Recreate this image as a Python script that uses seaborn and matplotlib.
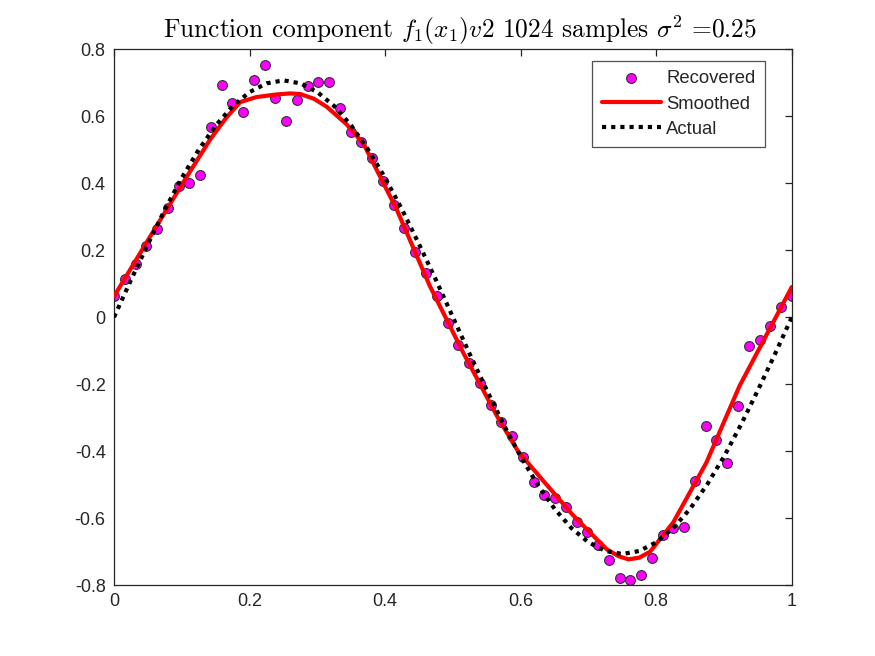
import numpy as np
import pandas as pd
import matplotlib
matplotlib.use("Agg")
import matplotlib.pyplot as plt
import seaborn as sns

# ---- data ----
recovered_y = [0.062, 0.113, 0.158, 0.211, 0.263, 0.327, 0.392, 0.400, 0.424, 0.567,
               0.693, 0.638, 0.613, 0.708, 0.753, 0.653, 0.586, 0.648, 0.690, 0.703,
               0.703, 0.625, 0.552, 0.524, 0.475, 0.407, 0.334, 0.265, 0.195, 0.131,
               0.062, -0.016, -0.084, -0.138, -0.197, -0.262, -0.312, -0.354, -0.416, -0.492,
               -0.531, -0.541, -0.568, -0.610, -0.640, -0.680, -0.725, -0.780, -0.785, -0.770,
               -0.720, -0.650, -0.630, -0.625, -0.490, -0.325, -0.366, -0.436, -0.266, -0.087,
               -0.069, -0.027, 0.030, 0.063]
recovered_x = [i / 63 for i in range(64)]

smoothed_x = [0.0, 0.048, 0.102, 0.142, 0.165, 0.186, 0.21, 0.24, 0.26, 0.275, 0.295, 0.314,
              0.343, 0.368, 0.417, 0.466, 0.515, 0.565, 0.596, 0.628, 0.678, 0.727,
              0.745, 0.759, 0.775, 0.791, 0.825, 0.874, 0.923, 1.0]
smoothed_y = [0.062, 0.223, 0.402, 0.531, 0.594, 0.642, 0.657, 0.665, 0.668, 0.666, 0.652, 0.628,
              0.576, 0.518, 0.322, 0.093, -0.105, -0.295, -0.400, -0.476, -0.593, -0.693,
              -0.714, -0.723, -0.718, -0.700, -0.613, -0.434, -0.205, 0.090]

actual_x = [i * 0.025 for i in range(41)]
actual_y = [0.0, 0.111, 0.218, 0.321, 0.416, 0.500, 0.572, 0.630, 0.672, 0.698,
            0.707, 0.698, 0.672, 0.630, 0.572, 0.500, 0.416, 0.321, 0.218, 0.111,
            0.0, -0.111, -0.218, -0.321, -0.416, -0.500, -0.572, -0.630, -0.672, -0.698,
            -0.707, -0.698, -0.672, -0.630, -0.572, -0.500, -0.416, -0.321, -0.218, -0.111,
            0.0]

x_ticks = [0, 0.2, 0.4, 0.6, 0.8, 1]
x_tick_labels = ["0", "0.2", "0.4", "0.6", "0.8", "1"]
y_ticks = [-0.8, -0.6, -0.4, -0.2, 0, 0.2, 0.4, 0.6, 0.8]
y_tick_labels = ["-0.8", "-0.6", "-0.4", "-0.2", "0", "0.2", "0.4", "0.6", "0.8"]

title_text = r"Function component $f_1(x_1)v2$ 1024 samples $\sigma^2$ =0.25"

# ---- plotting ----
sns.set_style("white")
plt.rcParams["font.family"] = ["Liberation Sans", "DejaVu Sans"]
plt.rcParams["mathtext.fontset"] = "cm"

fig = plt.figure(figsize=(8.75, 6.56), dpi=100)
ax = fig.add_axes([0.1303, 0.108, 0.7746, 0.817])

rec_df = pd.DataFrame({"x": recovered_x, "y": recovered_y})
sm_df = pd.DataFrame({"x": smoothed_x, "y": smoothed_y})
ac_df = pd.DataFrame({"x": actual_x, "y": actual_y})

sns.scatterplot(data=rec_df, x="x", y="y", ax=ax, color="#ff00ff", edgecolor="#333333",
                linewidth=0.8, s=50, label="Recovered", zorder=2)
sns.lineplot(data=sm_df, x="x", y="y", ax=ax, color="#ff0000", linewidth=3.0,
             label="Smoothed", estimator=None, sort=False, zorder=3)
sns.lineplot(data=ac_df, x="x", y="y", ax=ax, color="black", linewidth=3.0,
             linestyle=(0, (1, 1.2)), label="Actual", estimator=None, sort=False, zorder=4)

ax.set_xlim(0, 1)
ax.set_ylim(-0.8, 0.8)
ax.set_xticks(x_ticks)
ax.set_xticklabels(x_tick_labels)
ax.set_yticks(y_ticks)
ax.set_yticklabels(y_tick_labels)
ax.set_xlabel("")
ax.set_ylabel("")

for sp in ax.spines.values():
    sp.set_visible(True)
    sp.set_color("#262626")
    sp.set_linewidth(0.9)
ax.tick_params(direction="in", length=5, width=0.9, colors="#262626",
               labelsize=13, top=True, right=True, pad=6)
for lab in ax.get_xticklabels() + ax.get_yticklabels():
    lab.set_color("#262626")

ax.set_title(title_text, fontsize=18.3, family="cmr10", pad=8, color="black", x=0.51)

leg = ax.legend(loc="upper right", bbox_to_anchor=(0.960, 0.978), borderaxespad=0,
                fontsize=13.3, frameon=True, fancybox=False, handlelength=3.2,
                handletextpad=0.3, borderpad=0.5, labelspacing=0.45)
leg.get_frame().set_edgecolor("#262626")
leg.get_frame().set_linewidth(0.9)

fig.savefig("out.png", dpi=100)
